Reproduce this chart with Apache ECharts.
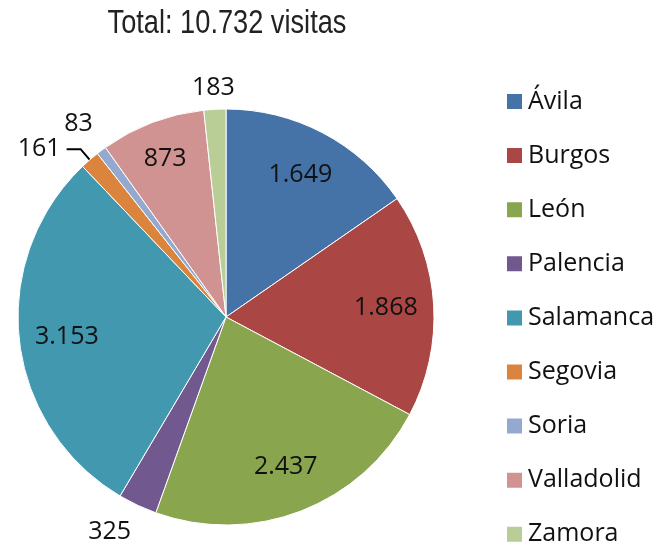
<!DOCTYPE html>
<html>
<head>
<meta charset="utf-8">
<script src="https://cdn.jsdelivr.net/npm/echarts@6/dist/echarts.min.js"></script>
<style>html,body{margin:0;padding:0;background:#fff}#c{width:660px;height:544px}</style>
</head>
<body>
<div id="c"></div>
<script>
var categories = ['Ávila','Burgos','León','Palencia','Salamanca','Segovia','Soria','Valladolid','Zamora'];
var values = [1649, 1868, 2437, 325, 3153, 161, 83, 873, 183];
var colors = ['#4572A7','#AA4643','#89A54E','#71588F','#4198AF','#DB843D','#93A9CF','#D19392','#B9CD96'];
var insideLabels = ['Ávila','Burgos','León','Salamanca','Valladolid'];
var outsideLabels = ['Palencia','Soria','Zamora'];
var lineLabels = ['Segovia'];
var titleText = 'Total: 10.732 visitas';

// label placement (style only): radius factor relative to pie radius, and small nudges
var insideFactor = 0.77, outsideFactor = 1.135;
var labelNudge = {'León':[2,1], 'Salamanca':[0,2], 'Valladolid':[-4,-8], 'Zamora':[0,7], 'Soria':[-6,-4], 'Palencia':[-16,1]};

function fmt(v){ return String(v).replace(/\B(?=(\d{3})+(?!\d))/g, '.'); }

var chart = echarts.init(document.getElementById('c'), null, {renderer:'canvas'});
var labelFont = {fontFamily:'"Open Sans", sans-serif', fontSize:25, color:'#111'};

function labelLayout(params){
  var n = categories[params.dataIndex];
  var factor;
  if (insideLabels.indexOf(n) >= 0) factor = insideFactor;
  else if (outsideLabels.indexOf(n) >= 0) factor = outsideFactor;
  else return {};
  var lay;
  try { lay = chart.getModel().getSeriesByIndex(params.seriesIndex).getData().getItemLayout(params.dataIndex); } catch(e) { return {}; }
  if (!lay) return {};
  var mid = (lay.startAngle + lay.endAngle) / 2;
  var R = lay.r * factor;
  var d = labelNudge[n] || [0,0];
  return {x: lay.cx + R*Math.cos(mid) + d[0], y: lay.cy + R*Math.sin(mid) + d[1], align:'center', verticalAlign:'middle'};
}

chart.setOption({
  animation:false,
  graphic:[{
    type:'text', x:227, y:7, scaleX:0.8, scaleY:1,
    style:{text:titleText, textAlign:'center', textVerticalAlign:'top',
      font:'34px "Liberation Sans", Arial, sans-serif', fill:'#222'}
  }],
  legend:{
    orient:'vertical', left:505, top:89, height:490, padding:0, itemWidth:17, itemHeight:17, itemGap:29.1,
    icon:'rect',
    data: categories.map(function(n,i){ return {name:n, itemStyle:{color:colors[i]}}; }),
    textStyle:{fontFamily:'"Open Sans", sans-serif', fontSize:25, color:'#111'}
  },
  series:[
    {
      type:'pie', center:[226, 317], radius:[0,208], startAngle:90, clockwise:true,
      avoidLabelOverlap:false, silent:true,
      itemStyle:{borderColor:'#fff', borderWidth:1},
      label:Object.assign({show:true, position:'outside', formatter:function(p){return fmt(p.value);}, distanceToLabelLine:6}, labelFont),
      labelLine:{show:false, length:14, length2:14, smooth:false, lineStyle:{color:'#000', width:2}},
      labelLayout: labelLayout,
      data: categories.map(function(n,i){
        return {name:n, value:values[i], itemStyle:{color:colors[i]},
          labelLine:{show: lineLabels.indexOf(n) >= 0}};
      })
    }
  ]
});
</script>
</body>
</html>
